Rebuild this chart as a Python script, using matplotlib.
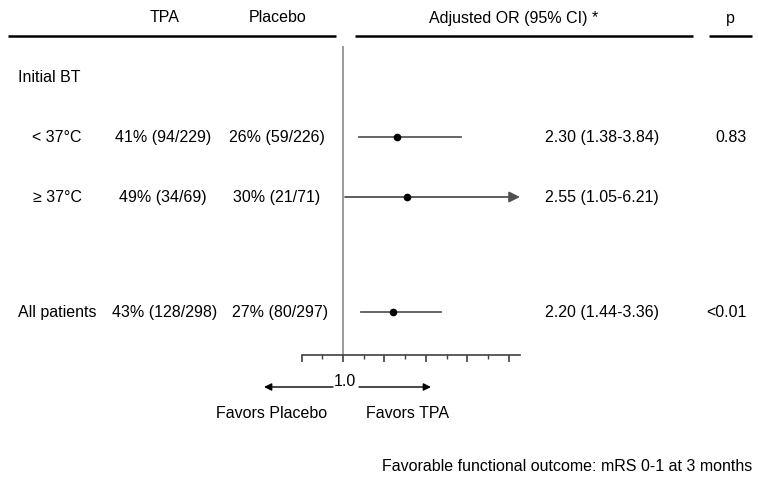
import matplotlib
matplotlib.use('Agg')
import matplotlib.pyplot as plt
from matplotlib.ticker import MultipleLocator

plt.rcParams['font.family'] = ['Liberation Sans', 'DejaVu Sans']

# data
subgroups = ['< 37°C', '≥ 37°C', 'All patients']
tpa_events = [94, 34, 128]
tpa_total = [229, 69, 298]
pbo_events = [59, 21, 80]
pbo_total = [226, 71, 297]
or_est = [2.30, 2.55, 2.20]
ci_lo = [1.38, 1.05, 1.44]
ci_hi = [3.84, 6.21, 3.36]
p_values = ['0.83', '', '<0.01']

# layout (pixel rows of the reference)
row_y = [138, 198, 313]
x_max = 5.27   # right end of OR axis

W, H = 758, 485
fig = plt.figure(figsize=(W / 100, H / 100), dpi=100)
bg = fig.add_axes([0, 0, 1, 1])
bg.set_xlim(0, W)
bg.set_ylim(H, 0)
bg.axis('off')

fs = 11.5

# header
bg.text(165, 18, 'TPA', ha='center', va='center', fontsize=fs)
bg.text(278, 18, 'Placebo', ha='center', va='center', fontsize=fs)
bg.text(514, 18, 'Adjusted OR (95% CI) *', ha='center', va='center', fontsize=fs)
bg.text(730, 18, 'p', ha='center', va='center', fontsize=fs)
for x0, x1 in [(8, 336), (355, 693), (709, 752)]:
    bg.plot([x0, x1], [37, 37], color='black', lw=1.8, solid_capstyle='butt')

bg.text(18, 78, 'Initial BT', ha='left', va='center', fontsize=fs)

for i, name in enumerate(subgroups):
    y = row_y[i]
    tpa_s = f'{round(100 * tpa_events[i] / tpa_total[i])}% ({tpa_events[i]}/{tpa_total[i]})'
    pbo_s = f'{round(100 * pbo_events[i] / pbo_total[i])}% ({pbo_events[i]}/{pbo_total[i]})'
    if name == 'All patients':
        bg.text(18, y, name, ha='left', va='center', fontsize=fs)
        bg.text(165, y, tpa_s, ha='center', va='center', fontsize=fs)
        bg.text(280, y, pbo_s, ha='center', va='center', fontsize=fs)
    else:
        bg.text(82, y, name, ha='right', va='center', fontsize=fs)
        bg.text(163, y, tpa_s, ha='center', va='center', fontsize=fs)
        bg.text(277, y, pbo_s, ha='center', va='center', fontsize=fs)
    bg.text(545, y, f'{or_est[i]:.2f} ({ci_lo[i]:.2f}-{ci_hi[i]:.2f})',
            ha='left', va='center', fontsize=fs)
    if p_values[i]:
        bg.text(747, y, p_values[i], ha='right', va='center', fontsize=fs)

# forest panel, x in OR units, y shares the pixel rows
x_left_px, x_right_px = 301.5, 520
y_top_px, y_bot_px = 47, 356
ax = fig.add_axes([x_left_px / W, (H - y_bot_px) / H,
                   (x_right_px - x_left_px) / W, (y_bot_px - y_top_px) / H])
ax.set_xlim(0, x_max)
ax.set_ylim(y_bot_px, y_top_px)
ax.patch.set_alpha(0)
for s in ['top', 'right', 'left']:
    ax.spines[s].set_visible(False)
ax.spines['bottom'].set_color('#404040')
ax.spines['bottom'].set_linewidth(1.2)
ax.set_yticks([])
ax.xaxis.set_major_locator(MultipleLocator(1))
ax.xaxis.set_minor_locator(MultipleLocator(0.5))
ax.tick_params(axis='x', which='major', length=5, width=1.2, color='#404040',
               labelbottom=False)
ax.tick_params(axis='x', which='minor', length=3, width=1, color='#404040')

ax.axvline(1, color='#808080', lw=1.1)

for i in range(len(or_est)):
    y = row_y[i]
    if ci_hi[i] > x_max:
        ax.annotate('', xy=(x_max, y), xytext=(ci_lo[i], y),
                    arrowprops=dict(arrowstyle='-|>', color='#505050', lw=1.3,
                                    mutation_scale=16, shrinkA=0, shrinkB=0))
    else:
        ax.plot([ci_lo[i], ci_hi[i]], [y, y], color='#595959', lw=1.3)
    ax.plot(or_est[i], y, 'o', color='black', markersize=4.5, zorder=5)

# favours arrows
bg.text(345, 382, '1.0', ha='center', va='center', fontsize=fs)
bg.annotate('', xy=(264, 388), xytext=(333, 388),
            arrowprops=dict(arrowstyle='-|>', color='black', lw=1,
                            mutation_scale=11, shrinkA=0, shrinkB=0))
bg.annotate('', xy=(431, 388), xytext=(359, 388),
            arrowprops=dict(arrowstyle='-|>', color='black', lw=1,
                            mutation_scale=11, shrinkA=0, shrinkB=0))
bg.text(272, 414, 'Favors Placebo', ha='center', va='center', fontsize=fs)
bg.text(408, 414, 'Favors TPA', ha='center', va='center', fontsize=fs)

bg.text(752, 467, 'Favorable functional outcome: mRS 0-1 at 3 months',
        ha='right', va='center', fontsize=fs)

fig.savefig('out.png', dpi=100)
